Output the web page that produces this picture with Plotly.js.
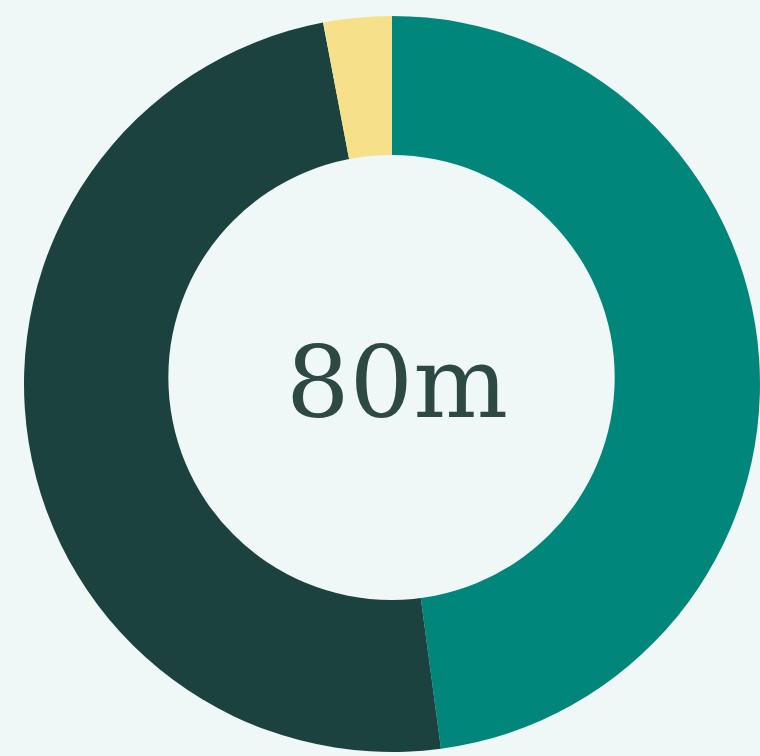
<!DOCTYPE html>
<html>
<head>
<meta charset="utf-8">
<script src="https://cdn.plot.ly/plotly-3.0.1.min.js"></script>
<style>
  html, body { margin: 0; padding: 0; background: #EFF8F7; }
  #chart { width: 760px; height: 756px; }
</style>
</head>
<body>
<div id="chart"></div>
<script>
const categories = ["Segment A", "Segment B", "Segment C"];
const values = [38.3, 39.3, 2.4];
const colors = ["#00867B", "#1B423E", "#F6E18A"];
const centerLabel = "80m";

const bg = "#EFF8F7";

const trace = {
  type: "pie",
  labels: categories,
  values: values,
  sort: false,
  direction: "clockwise",
  rotation: 0,
  hole: 0.5,
  textinfo: "none",
  hoverinfo: "label+value",
  marker: { colors: colors, line: { width: 0 } },
  showlegend: false
};

const layout = {
  width: 760,
  height: 756,
  margin: { l: 24, r: 0, t: 16, b: 4, pad: 0 },
  paper_bgcolor: bg,
  plot_bgcolor: bg,
  showlegend: false,
  shapes: [{
    type: "circle",
    xref: "paper", yref: "paper",
    x0: 0.1961, x1: 0.8026,
    y0: 0.2065, y1: 0.8111,
    fillcolor: bg,
    line: { width: 0 },
    layer: "above"
  }],
  annotations: [{
    text: centerLabel,
    xref: "paper", yref: "paper",
    x: 0.507, y: 0.502,
    xanchor: "center", yanchor: "middle",
    showarrow: false,
    font: { family: "DejaVu Serif", size: 100, color: "#2D4944" }
  }]
};

Plotly.newPlot("chart", [trace], layout, { displayModeBar: false, staticPlot: true });
</script>
</body>
</html>
